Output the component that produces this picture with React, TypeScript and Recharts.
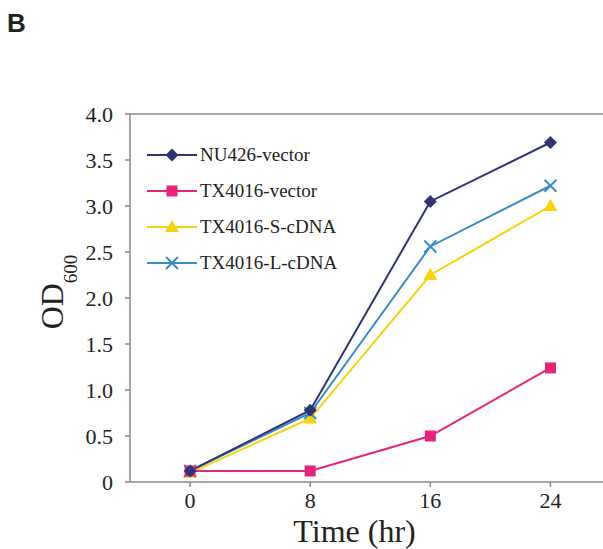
import React from "react"
import { LineChart, Line, XAxis, YAxis, ReferenceLine } from "recharts"

// growth curve, OD600 readings over time
const times = [0, 8, 16, 24]
const nu426Vector = [0.12, 0.78, 3.05, 3.69]
const tx4016Vector = [0.12, 0.12, 0.5, 1.24]
const tx4016S = [0.1, 0.69, 2.25, 3.0]
const tx4016L = [0.12, 0.75, 2.56, 3.22]
const yTicks = [0, 0.5, 1, 1.5, 2, 2.5, 3, 3.5, 4]

const AXIS = "#8e8686"
const FONT = "Liberation Serif, Times New Roman, serif"

const data = times.map((t, i) => ({
  time: t,
  nu: nu426Vector[i],
  txv: tx4016Vector[i],
  txs: tx4016S[i],
  txl: tx4016L[i],
}))

type Shape = "diamond" | "square" | "triangle" | "cross"

function Marker({ cx, cy, shape, color }: { cx: number; cy: number; shape: Shape; color: string }) {
  if (shape === "diamond") {
    const r = 6.5
    return <polygon points={`${cx},${cy - r} ${cx + r},${cy} ${cx},${cy + r} ${cx - r},${cy}`} fill={color} />
  }
  if (shape === "square") {
    return <rect x={cx - 5.5} y={cy - 5.5} width={11} height={11} fill={color} />
  }
  if (shape === "triangle") {
    const r = 7
    return <polygon points={`${cx},${cy - r} ${cx + r},${cy + r * 0.7} ${cx - r},${cy + r * 0.7}`} fill={color} />
  }
  const r = 6
  return (
    <g stroke={color} strokeWidth={2}>
      <line x1={cx - r} y1={cy - r} x2={cx + r} y2={cy + r} />
      <line x1={cx - r} y1={cy + r} x2={cx + r} y2={cy - r} />
    </g>
  )
}

const series: { key: string; name: string; color: string; shape: Shape }[] = [
  { key: "nu", name: "NU426-vector", color: "#2f3573", shape: "diamond" },
  { key: "txv", name: "TX4016-vector", color: "#e5257a", shape: "square" },
  { key: "txs", name: "TX4016-S-cDNA", color: "#f6d30c", shape: "triangle" },
  { key: "txl", name: "TX4016-L-cDNA", color: "#3a8dc2", shape: "cross" },
]

// draw order: yellow underneath, navy on top
const drawOrder = ["txs", "txl", "txv", "nu"]

// legend sits inside the plot, drawn as an overlay so it takes no room from the axes
function LegendBox() {
  return (
    <svg width={210} height={130} style={{ position: "absolute", left: 143, top: 145 }}>
      {series.map((s, i) => {
        const y = 10 + i * 36
        return (
          <g key={s.key}>
            <line x1={4} y1={y} x2={54} y2={y} stroke={s.color} strokeWidth={2} />
            <Marker cx={29} cy={y} shape={s.shape} color={s.color} />
            <text x={57} y={y + 6} fontFamily={FONT} fontSize={19} fill="#222">
              {s.name}
            </text>
          </g>
        )
      })}
    </svg>
  )
}

export default function App() {
  return (
    <div style={{ position: "absolute", left: 0, top: 0, width: 603, height: 549, background: "#fff" }}>
      <div
        style={{
          position: "absolute",
          left: 7,
          top: 8,
          fontFamily: "Liberation Sans, Arial, sans-serif",
          fontWeight: "bold",
          fontSize: 26,
          color: "#222",
        }}
      >
        B
      </div>
      <LineChart width={603} height={549} data={data} margin={{ top: 114, right: 0, bottom: 0, left: 0 }}>
        <XAxis
          dataKey="time"
          type="number"
          domain={[-4, 27.5]}
          ticks={times}
          allowDataOverflow
          interval={0}
          height={67}
          stroke={AXIS}
          strokeWidth={1.5}
          tickSize={5}
          tickMargin={5}
          tick={{ fontFamily: FONT, fontSize: 22, fill: "#222" }}
          label={{
            content: (p: any) => {
              const vb = p.viewBox
              return (
                <text
                  x={vb.x + vb.width / 2 - 12}
                  y={vb.y + 60}
                  textAnchor="middle"
                  fontFamily={FONT}
                  fontSize={32}
                  fill="#222"
                >
                  Time (hr)
                </text>
              )
            },
          }}
        />
        <YAxis
          domain={[0, 4]}
          ticks={yTicks}
          interval={0}
          width={130}
          stroke={AXIS}
          strokeWidth={1.5}
          tickSize={5}
          tickMargin={12}
          tickFormatter={(v: number) => (v === 0 ? "0" : v.toFixed(1))}
          tick={{ fontFamily: FONT, fontSize: 22, fill: "#222" }}
          label={{
            content: (p: any) => {
              const vb = p.viewBox
              const x = vb.x + 63
              const y = vb.y + vb.height / 2 - 6
              return (
                <text
                  x={x}
                  y={y}
                  transform={`rotate(-90, ${x}, ${y})`}
                  textAnchor="middle"
                  fontFamily={FONT}
                  fontSize={32}
                  fill="#222"
                >
                  OD
                  <tspan fontSize={19} dy={14}>
                    600
                  </tspan>
                </text>
              )
            },
          }}
        />
        <ReferenceLine y={4} stroke={AXIS} strokeWidth={1.5} />
        {drawOrder.map((k) => {
          const s = series.find((x) => x.key === k)!
          return (
            <Line
              key={s.key}
              dataKey={s.key}
              name={s.name}
              stroke={s.color}
              strokeWidth={2}
              isAnimationActive={false}
              dot={(props: any) => (
                <Marker key={`${s.key}-${props.index}`} cx={props.cx} cy={props.cy} shape={s.shape} color={s.color} />
              )}
              activeDot={false}
            />
          )
        })}
      </LineChart>
      <LegendBox />
    </div>
  )
}
